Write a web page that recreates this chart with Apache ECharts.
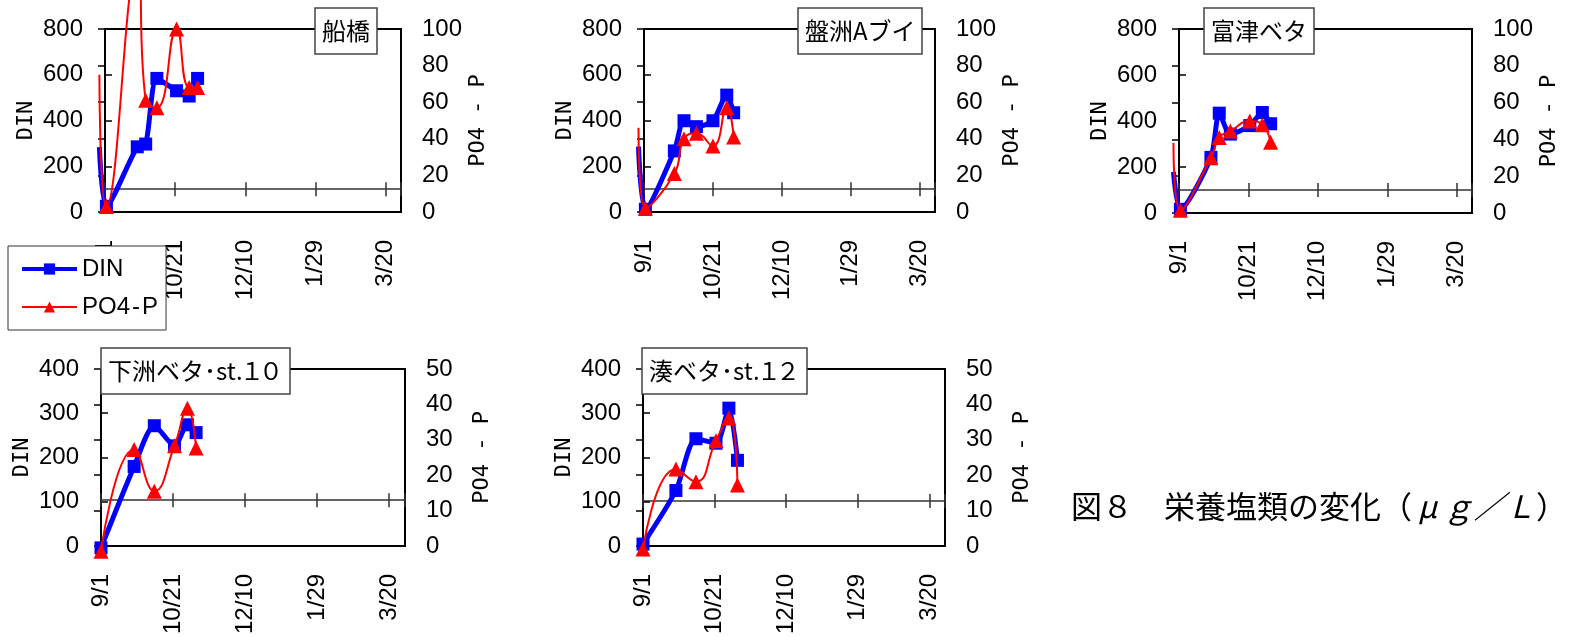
<!DOCTYPE html>
<html>
<head>
<meta charset="utf-8">
<script src="https://cdn.jsdelivr.net/npm/echarts@6/dist/echarts.min.js"></script>
<style>
  html, body { margin: 0; padding: 0; background: #fff; }
  #chart { width: 1577px; height: 637px; }
</style>
</head>
<body>
<div id="chart"></div>
<script>
// station names (panel titles)
const stations = ['船橋', '盤洲Aブイ', '富津ベタ', '下洲ベタ･st.１０', '湊ベタ･st.１２']

// sampling dates (m/d) and values, one set per station
const funabashiDates = ['8/28', '9/2', '9/24', '9/30', '10/8', '10/22', '10/31', '11/6']
const funabashiDIN = [284, 25, 285, 297, 584, 530, 507, 584]
const funabashiPO4 = [75, 3, 135, 61, 57, 100, 68, 68]

const banzuDates = ['8/28', '9/2', '9/23', '9/30', '10/9', '10/21', '10/31', '11/5']
const banzuDIN = [286, 12, 267, 399, 373, 399, 511, 434]
const banzuPO4 = [46, 2, 21, 40, 43, 36, 57, 41]

const futtsuDates = ['8/28', '9/2', '9/24', '9/30', '10/8', '10/22', '10/31', '11/6']
const futtsuDIN = [178, 16, 242, 434, 343, 380, 437, 388]
const futtsuPO4 = [38, 1.5, 30, 41, 44.5, 50, 48, 38.5]

const shimozuDates = ['9/1', '9/24', '10/8', '10/22', '10/31', '11/6']
const shimozuDIN = [9, 187, 276, 232, 278, 261]
const shimozuPO4 = [0.2, 28, 16.6, 29, 39.3, 28.4]

const minatoDates = ['9/1', '9/24', '10/8', '10/22', '10/31', '11/6']
const minatoDIN = [11, 130, 245, 235, 313, 197]
const minatoPO4 = [0, 22.2, 18.7, 30.1, 36.4, 17.8]

// axis scales
const dinMax = [800, 800, 800, 400, 400]
const po4Max = [100, 100, 100, 50, 50]
const crossAt = 100            // DIN value where the date axis crosses
const dateTicks = ['9/1', '10/21', '12/10', '1/29', '3/20']
const dateEnd = '3/31'

const allDates = [funabashiDates, banzuDates, futtsuDates, shimozuDates, minatoDates]
const allDIN = [funabashiDIN, banzuDIN, futtsuDIN, shimozuDIN, minatoDIN]
const allPO4 = [funabashiPO4, banzuPO4, futtsuPO4, shimozuPO4, minatoPO4]

const dinName = 'DIN'
const po4Name = 'PO4\u200a-\u200aP'

// day offset from 9/1 (season Sep 2002 - Mar 2003)
function dayOf(md) {
  const [m, d] = md.split('/').map(Number)
  const y = m >= 8 ? 2002 : 2003
  return Math.round((Date.UTC(y, m - 1, d) - Date.UTC(2002, 8, 1)) / 864e5)
}
const xMax = dayOf(dateEnd)
const xStep = dayOf(dateTicks[1]) - dayOf(dateTicks[0])
const lead = 10   // data grid starts this many days before 9/1 so early points are not squeezed onto the axis
const tickLabel = {}
dateTicks.forEach(t => { tickLabel[dayOf(t)] = t })

// panel layout in px
const panels = [
  { left: 105, top: 29, width: 296, height: 183, tl: 315, tt: 8 },
  { left: 644, top: 29, width: 291, height: 183, tl: 798, tt: 8 },
  { left: 1179, top: 29, width: 293, height: 184, tl: 1204, tt: 8 },
  { left: 101, top: 369, width: 304, height: 183, tl: 101, tt: 348 },
  { left: 643, top: 369, width: 302, height: 180, tl: 642, tt: 348 }
]

const latin = 'Liberation Sans'
const cjk = 'Noto Sans CJK JP'
const mono = 'DejaVu Sans Mono'

const grid = [], xAxis = [], yAxis = [], series = []
const cell = { fontFamily: cjk, fontSize: 31, fontStyle: 'italic', color: '#000', width: 31, align: 'center' }
const title = [{
  text: '図８　栄養塩類の変化（{c|μ}{c|ｇ}{c|／}{c|Ｌ}）',
  left: 1071, top: 491, padding: 0,
  textStyle: {
    fontFamily: cjk, fontSize: 31, fontWeight: 'normal', color: '#000',
    rich: { c: cell }
  }
}]

const n = panels.length
panels.forEach((p, i) => {
  // visible frame grid
  grid.push({ left: p.left, top: p.top, width: p.width, height: p.height,
    show: true, borderColor: '#000', borderWidth: 2, backgroundColor: 'transparent' })

  const base = { type: 'value', gridIndex: i, min: 0, max: xMax, interval: xStep,
    position: 'bottom', splitLine: { show: false } }
  const off = -(crossAt / dinMax[i]) * p.height
  // labels under the frame
  xAxis.push(Object.assign({}, base, {
    axisLine: { show: false }, axisTick: { show: false },
    axisLabel: { rotate: 90, margin: 28, fontSize: 24, fontFamily: latin, color: '#000',
      formatter: v => tickLabel[Math.round(v)] || '' }
  }))
  // crossing line with downward ticks
  xAxis.push(Object.assign({}, base, {
    offset: off,
    axisLine: { show: true, onZero: false, lineStyle: { color: '#333', width: 1.5 } },
    axisTick: { show: true, length: 7, lineStyle: { color: '#333', width: 1.5 } },
    axisLabel: { show: false }
  }))
  // upward ticks
  xAxis.push(Object.assign({}, base, {
    offset: off,
    axisLine: { show: false, onZero: false },
    axisTick: { show: true, inside: true, length: 7, lineStyle: { color: '#333', width: 1.5 } },
    axisLabel: { show: false }
  }))

  const yCommon = {
    type: 'value', gridIndex: i, min: 0, splitLine: { show: false },
    axisLine: { show: true, lineStyle: { color: '#000', width: 2 } },
    axisTick: { show: true, inside: true, length: 7, lineStyle: { color: '#000', width: 1.5 } },
    nameLocation: 'middle', nameRotate: 90,
    nameTextStyle: { fontFamily: mono, fontSize: 22, color: '#000' }
  }
  yAxis.push(Object.assign({}, yCommon, {
    position: 'left', max: dinMax[i], interval: dinMax[i] / 4,
    axisLabel: { margin: 22, fontSize: 24, fontFamily: latin, color: '#000' },
    name: 'DIN', nameGap: 68
  }))
  yAxis.push(Object.assign({}, yCommon, {
    position: 'right', max: po4Max[i], interval: po4Max[i] / 5,
    axisLabel: { margin: 21, fontSize: 24, fontFamily: latin, color: '#000' },
    name: 'PO4 - P', nameGap: 66
  }))

  // full-width digits sit in narrow fixed cells, as in the original boxes
  const label = stations[i].replace(/[０-９]/g, ch => '{d|' + ch + '}')
  title.push({
    text: label, left: p.tl, top: p.tt, padding: [10, 7],
    backgroundColor: '#fff', borderColor: '#444', borderWidth: 1.5,
    textStyle: { fontFamily: cjk, fontSize: 24, fontWeight: 'normal', color: '#000', lineHeight: 26,
      rich: { d: { fontFamily: cjk, fontSize: 24, color: '#000', width: 19, align: 'center', lineHeight: 26 } } },
    z: 10
  })
})

// hidden data grids: same scale as the frames, extended a little to the left
panels.forEach((p, i) => {
  const pxDay = p.width / xMax
  grid.push({ left: p.left - lead * pxDay, top: p.top, width: p.width + lead * pxDay, height: p.height, show: false })
  xAxis.push({ type: 'value', gridIndex: n + i, min: -lead, max: xMax, show: false })
  yAxis.push({ type: 'value', gridIndex: n + i, min: 0, max: dinMax[i], show: false })
  yAxis.push({ type: 'value', gridIndex: n + i, min: 0, max: po4Max[i], show: false })

  const pts = (vals, max) => vals.map((v, k) => {
    const x = dayOf(allDates[i][k])
    return (x < 0 || v > max) ? { value: [x, v], symbol: 'none' } : { value: [x, v] }
  })

  series.push({
    name: dinName, type: 'line', xAxisIndex: 3 * n + i, yAxisIndex: 2 * n + 2 * i,
    data: pts(allDIN[i], dinMax[i]), smooth: 0.25, clip: false,
    symbol: 'rect', symbolSize: 13,
    lineStyle: { color: '#0000ff', width: 5 }, itemStyle: { color: '#0000ff' }, z: 3
  })
  series.push({
    name: po4Name, type: 'line', xAxisIndex: 3 * n + i, yAxisIndex: 2 * n + 2 * i + 1,
    data: pts(allPO4[i], po4Max[i]), smooth: 0.5, clip: false,
    symbol: 'triangle', symbolSize: 15,
    lineStyle: { color: '#ff0000', width: 2 }, itemStyle: { color: '#ff0000' }, z: 4
  })
})

const chart = echarts.init(document.getElementById('chart'))
chart.setOption({
  animation: false,
  backgroundColor: '#fff',
  title,
  legend: {
    data: [
      { name: dinName, lineStyle: { width: 4 } },
      { name: po4Name, lineStyle: { width: 2 } }
    ],
    orient: 'vertical', left: 8, top: 246,
    itemWidth: 55, itemHeight: 14, itemGap: 14, padding: [11, 8, 11, 12],
    backgroundColor: '#fff', borderColor: '#333', borderWidth: 1,
    textStyle: { fontFamily: latin, fontSize: 24, color: '#000' },
    z: 20
  },
  grid, xAxis, yAxis, series
})
</script>
</body>
</html>
